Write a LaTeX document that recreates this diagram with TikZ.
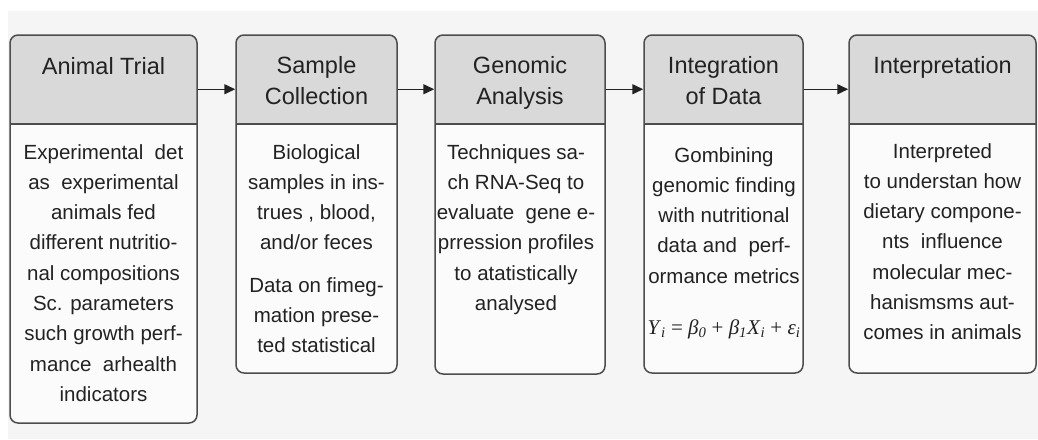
\documentclass[tikz,border=0pt]{standalone}
\usepackage{fontspec}
\setmainfont{Liberation Sans}
\newfontfamily\formfont{Liberation Serif}
\usetikzlibrary{arrows.meta,fit}
\definecolor{bgcol}{HTML}{F5F5F5}
\definecolor{headfill}{HTML}{D9D9D9}
\definecolor{bodyfill}{HTML}{FBFBFB}
\definecolor{bordercol}{HTML}{4D4D4D}
\definecolor{txtcol}{HTML}{222222}
\newcommand\stageframe[4]{%
  \path[fill=bodyfill, rounded corners=8pt] (#2,35) rectangle (#3,#4);
  \begin{scope}
    \clip[rounded corners=8pt] (#2,35) rectangle (#3,#4);
    \fill[headfill] (#2,35) rectangle (#3,124);
  \end{scope}
  \draw[divline] (#2,124) -- (#3,124);
  \node[frame, fit={(#2,35) (#3,#4)}] (#1) {};
}
\newcommand\toplines[1]{\begin{tabular}[t]{@{}c@{}}#1\end{tabular}}
\begin{document}
\begin{tikzpicture}[x=1pt,y=-1pt,
  frame/.style={draw=bordercol, line width=1.5pt, rounded corners=8pt, inner sep=0pt},
  divline/.style={draw=bordercol, line width=1.3pt},
  headtext/.style={text=txtcol, anchor=base, inner sep=0pt,
    font=\fontsize{23.5}{31}\selectfont},
  bodytext/.style={text=txtcol, anchor=base, inner sep=0pt,
    font=\fontsize{20.5}{30.3}\selectfont},
  arr/.style={draw=txtcol, line width=1.5pt, -{Triangle[length=11pt,width=10pt]}}]
\useasboundingbox (0,0) rectangle (1038,439);
\fill[white] (0,0) rectangle (1038,439);
\fill[bgcol] (8,11) rectangle (1038,439);

\stageframe{b1}{10}{197}{423}
\stageframe{b2}{236}{397}{373}
\stageframe{b3}{435}{605}{374}
\stageframe{b4}{644}{803}{373}
\stageframe{b5}{849}{1036}{373}

\node[headtext] (h1) at (103.5,74) {\toplines{Animal Trial}};
\node[headtext] (h2) at (316.5,73) {\toplines{Sample\\Collection}};
\node[headtext] (h3) at (520,73) {\toplines{Genomic\\Analysis}};
\node[headtext] (h4) at (723.5,73) {\toplines{Integration\\of Data}};
\node[headtext] (h5) at (942.5,73) {\toplines{Interpretation}};

\node[bodytext] (t1) at (103.5,159) {\toplines{Experimental\ \ det\\as\ \ experimental\\animals fed\\different nutritio-\\nal compositions\\Sc. parameters\\such growth perf-\\mance\ \ arhealth\\indicators}};
\node[bodytext] (t2) at (316.5,159) {\toplines{Biological\\samples in ins-\\trues , blood,\\and/or feces\\[12pt]Data on fimeg-\\mation prese-\\ted statistical}};
\node[bodytext] (t3) at (516,159) {\toplines{Techniques sa-\\ch RNA-Seq to\\evaluate\ \ gene e-\\prression profiles\\to atatistically\\analysed}};
\node[bodytext] (t4) at (724,162) {\toplines{Gombining\\genomic finding\\with nutritional\\data and\ \ perf-\\ormance metrics\\[21pt]{\formfont\fontsize{21}{21}\selectfont\textit{Y}\textsubscript{\textit{i}} = \textit{β}\textsubscript{\textit{0}} + \textit{β}\textsubscript{\textit{1}}\textit{X}\textsubscript{\textit{i}} + \textit{ε}\textsubscript{\textit{i}}}}};
\node[bodytext] (t5) at (942.5,158) {\toplines{Interpreted\\to understan how\\dietary compone-\\nts\ \ influence\\molecular mec-\\hanismsms aut-\\comes in animals}};

\draw[arr] ([yshift=-55pt]b1.north east) -- ([yshift=-55pt]b2.north west);
\draw[arr] ([yshift=-55pt]b2.north east) -- ([yshift=-55pt]b3.north west);
\draw[arr] ([yshift=-55pt]b3.north east) -- ([yshift=-55pt]b4.north west);
\draw[arr] ([yshift=-55pt]b4.north east) -- ([yshift=-55pt]b5.north west);
\end{tikzpicture}
\end{document}
